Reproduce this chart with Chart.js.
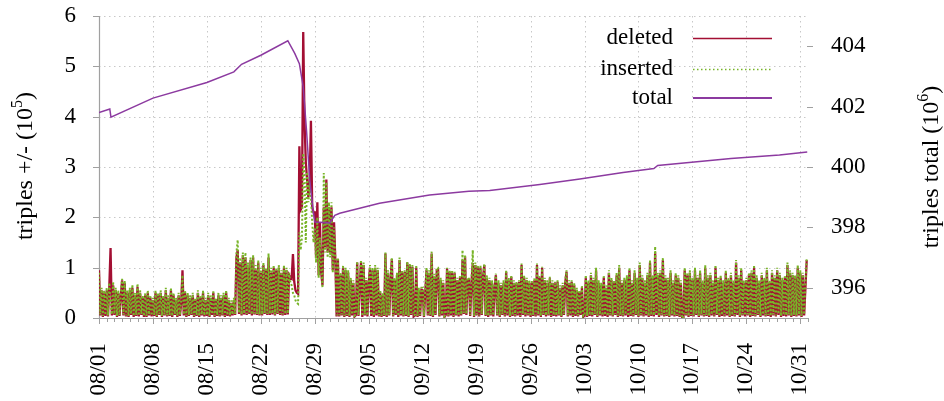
<!DOCTYPE html>
<html><head><meta charset="utf-8">
<script src="https://cdn.jsdelivr.net/npm/chart.js@4.4.1/dist/chart.umd.min.js"></script>
<style>html,body{margin:0;padding:0;background:#fff}canvas{display:block}</style>
</head><body><canvas id="c" width="944" height="401"></canvas>
<script>
// ---------- data ----------
const startDateUTC = Date.UTC(2016, 7, 1);           // 08/01
const xTickDays = [0,7,14,21,28,35,42,49,56,63,70,77,84,91];
const yLeftTicks = [0,1,2,3,4,5,6];
const yRightTicks = [396,398,400,402,404];
const seriesNames = ['deleted','inserted','total'];
const samplesPerDay = 6;   // 4-hourly samples, one row per day (x 10^5 triples)

const deletedByDay = [
 [0.95,0.05,0.55,0.02,0.5,0.04],[0.55,0.03,0.6,1.39,0.05,0.65],[0.06,0.55,0.02,0.5,0.04,0.45],[0.75,0.05,0.7,0.03,0.5,0.02],[0.55,0.06,0.6,0.02,0.45,0.04],[0.62,0.03,0.5,0.06,0.4,0.02],[0.45,0.02,0.5,0.05,0.4,0.03],
 [0.35,0.04,0.5,0.02,0.45,0.06],[0.5,0.02,0.4,0.05,0.55,0.03],[0.4,0.04,0.55,0.02,0.45,0.06],[0.35,0.02,0.45,0.04,0.3,0.95],[0.05,0.5,0.02,0.45,0.04,0.4],[0.06,0.45,0.02,0.35,0.04,0.5],[0.02,0.4,0.05,0.5,0.03,0.35],
 [0.04,0.45,0.02,0.4,0.06,0.5],[0.02,0.35,0.04,0.45,0.03,0.4],[0.05,0.45,0.02,0.5,0.04,0.35],[0.03,0.3,0.05,0.35,0.06,1.2],[1.35,0.08,1.1,0.05,1.25,0.07],[1.2,0.06,1.0,0.08,1.15,0.05],[1.2,0.07,0.95,0.06,1.1,0.05],
 [0.9,0.05,1.05,0.08,0.95,0.06],[1.2,0.06,0.9,0.07,1.0,0.05],[0.95,0.08,1.0,0.06,0.9,0.05],[1.0,0.06,0.95,0.07,0.85,0.8],[0.78,1.27,0.72,0.55,0.5,0.48],[3.41,2.15,2.2,5.68,3.93,3.1],[2.75,2.4,2.7,3.92,2.2,2.1],
 [2.1,1.2,2.3,0.85,1.9,0.9],[0.65,2.2,1.4,2.75,1.3,2.2],[1.3,2.2,0.95,1.9,1.15,0.03],[1.17,0.03,0.85,0.05,1.0,0.02],[0.95,0.04,0.9,0.02,0.75,0.05],[0.7,0.03,0.06,1.1,0.04,0.65],[1.1,0.02,1.05,0.05,0.75,0.03],
 [0.7,1.0,0.04,0.95,0.02,1.0],[0.05,0.95,0.03,0.5,0.02,0.45],[0.04,1.28,0.02,0.9,0.05,0.75],[1.17,0.03,0.75,0.06,0.85,0.02],[1.15,0.05,0.9,0.03,0.92,0.04],[1.1,0.02,1.05,0.06,1.02,0.03],[0.05,1.0,0.02,0.55,0.04,0.56],
 [0.55,0.02,0.5,0.95,0.05,0.9],[0.04,1.28,0.02,0.82,0.06,0.95],[0.95,0.03,0.75,0.05,0.7,0.02],[0.06,0.99,0.03,0.92,0.05,0.9],[0.02,0.89,0.05,0.75,0.03,0.8],[0.05,1.15,0.08,1.22,0.06,0.75],[0.75,0.04,0.7,1.09,0.02,1.05],
 [0.05,1.02,0.03,1.0,0.06,0.82],[1.05,0.04,0.8,0.02,0.75,0.05],[0.7,0.03,0.6,0.85,0.05,0.7],[0.02,0.65,0.06,0.7,0.03,0.92],[0.05,0.75,0.02,0.82,0.04,0.7],[0.03,0.69,0.05,0.72,0.02,1.05],[0.06,0.8,0.03,0.75,0.05,0.7],
 [0.02,0.7,0.04,0.75,0.03,1.05],[0.05,0.8,0.02,1.0,0.06,0.75],[0.03,0.7,0.05,0.79,0.02,0.7],[0.04,0.69,0.03,0.72,0.05,0.6],[0.02,0.65,0.06,0.7,0.92,0.03],[0.7,0.05,0.72,0.02,0.65,0.04],[0.55,0.03,0.52,0.06,0.6,0.02],
 [0.05,0.8,0.02,0.7,0.04,0.85],[0.03,0.75,0.06,0.95,0.02,0.7],[0.05,0.65,0.03,0.8,0.04,0.6],[0.02,0.9,0.05,0.75,0.03,0.7],[0.06,0.85,0.02,1.0,0.04,0.7],[0.03,0.75,0.05,0.8,0.02,0.95],[0.04,0.7,0.03,0.9,0.06,0.75],
 [0.02,1.05,0.05,0.8,0.03,0.7],[0.05,0.85,0.02,1.1,0.04,0.8],[0.03,1.3,0.06,0.85,0.02,0.9],[0.05,1.15,0.03,0.8,0.04,0.75],[0.02,0.9,0.05,0.7,0.03,0.85],[0.04,0.8,0.02,0.7,0.0,0.0],[0.95,0.05,0.85,0.02,0.9,0.04],
 [0.75,0.03,0.95,0.06,0.8,0.02],[0.9,0.05,0.7,0.03,1.0,0.04],[0.8,0.02,0.85,0.05,0.7,0.03],[1.0,0.06,0.75,0.02,0.8,0.04],[0.7,0.03,0.9,0.05,0.75,0.02],[0.85,0.04,0.7,0.03,1.1,0.06],[0.8,0.02,0.95,0.05,0.7,0.03],
 [0.75,0.05,0.85,0.02,0.9,0.04],[1.0,0.03,0.8,0.06,0.7,0.02],[0.85,0.05,0.75,0.03,0.95,0.04],[0.7,0.02,0.9,0.05,0.8,0.03],[0.95,0.06,0.85,0.02,0.75,0.04],[0.8,0.03,1.05,0.05,0.9,0.02],[0.85,0.04,0.8,0.03,1.0,0.05],
 [0.9,0.02,0.85,0.05,0.6,1.15]
];

const insertedByDay = [
 [0.9,0.07,0.6,0.04,0.55,0.06],[0.6,0.05,0.7,0.3,0.07,0.72],[0.08,0.6,0.04,0.55,0.06,0.5],[0.78,0.07,0.74,0.05,0.55,0.04],[0.6,0.08,0.66,0.04,0.5,0.06],[0.68,0.05,0.55,0.08,0.45,0.04],[0.5,0.04,0.55,0.07,0.45,0.05],
 [0.4,0.06,0.55,0.04,0.5,0.08],[0.55,0.04,0.45,0.07,0.6,0.05],[0.45,0.06,0.6,0.04,0.5,0.08],[0.4,0.04,0.5,0.06,0.35,0.85],[0.07,0.55,0.04,0.5,0.06,0.45],[0.08,0.5,0.04,0.4,0.06,0.55],[0.04,0.45,0.07,0.55,0.05,0.4],
 [0.06,0.5,0.04,0.45,0.08,0.55],[0.04,0.4,0.06,0.5,0.05,0.45],[0.07,0.5,0.04,0.55,0.06,0.4],[0.05,0.35,0.07,0.4,0.08,1.3],[1.55,0.1,1.2,0.07,1.3,0.09],[1.3,0.08,1.1,0.1,1.2,0.07],[1.25,0.09,1.05,0.08,1.15,0.07],
 [1.0,0.07,1.1,0.1,1.0,0.08],[1.28,0.08,1.0,0.09,1.05,0.07],[1.0,0.1,1.05,0.08,0.95,0.07],[1.05,0.08,1.0,0.09,0.9,0.7],[0.65,0.5,0.45,0.35,0.3,0.28],[1.7,1.35,1.6,3.27,2.9,1.5],[2.9,2.3,2.6,2.4,1.9,1.5],
 [1.8,1.1,2.0,0.8,1.6,0.95],[0.6,2.88,1.3,2.7,1.2,2.3],[1.2,2.3,0.9,1.8,1.2,0.05],[1.2,0.05,0.9,0.07,1.05,0.04],[1.0,0.06,0.95,0.04,0.8,0.07],[0.75,0.05,0.08,1.12,0.06,0.7],[1.15,0.04,1.1,0.07,0.8,0.05],
 [0.75,1.05,0.06,1.0,0.04,1.05],[0.07,1.0,0.05,0.55,0.04,0.5],[0.06,1.3,0.04,0.95,0.07,0.8],[1.2,0.05,0.8,0.08,0.9,0.04],[1.2,0.07,0.95,0.05,0.95,0.06],[1.12,0.04,1.08,0.08,1.05,0.05],[0.07,1.05,0.04,0.6,0.06,0.6],
 [0.6,0.04,0.55,1.0,0.07,0.95],[0.06,1.32,0.04,0.88,0.08,1.0],[1.0,0.05,0.8,0.07,0.75,0.04],[0.08,1.0,0.05,0.95,0.07,0.95],[0.04,0.92,0.07,0.8,0.05,0.85],[0.07,1.35,0.1,1.25,0.08,0.8],[0.8,0.06,0.75,1.35,0.04,1.1],
 [0.07,1.05,0.05,1.05,0.08,0.85],[1.08,0.06,0.85,0.04,0.8,0.07],[0.75,0.05,0.65,0.88,0.07,0.75],[0.04,0.7,0.08,0.75,0.05,0.95],[0.07,0.8,0.04,0.85,0.06,0.75],[0.05,0.72,0.07,0.75,0.04,1.08],[0.08,0.85,0.05,0.8,0.07,0.75],
 [0.04,0.75,0.06,0.8,0.05,1.08],[0.07,0.85,0.04,1.02,0.08,0.8],[0.05,0.75,0.07,0.82,0.04,0.75],[0.06,0.72,0.05,0.75,0.07,0.65],[0.04,0.7,0.08,0.75,0.95,0.05],[0.75,0.07,0.75,0.04,0.7,0.06],[0.6,0.05,0.55,0.08,0.65,0.04],
 [0.07,0.85,0.04,0.75,0.06,0.9],[0.05,0.8,0.08,1.0,0.04,0.75],[0.07,0.7,0.05,0.85,0.06,0.65],[0.04,0.95,0.07,0.8,0.05,0.75],[0.08,0.9,0.04,1.05,0.06,0.75],[0.05,0.8,0.07,0.85,0.04,1.0],[0.06,0.75,0.05,0.95,0.08,0.8],
 [0.04,1.1,0.07,0.85,0.05,0.75],[0.07,0.9,0.04,1.15,0.06,0.85],[0.05,1.42,0.08,0.9,0.04,0.95],[0.07,1.2,0.05,0.85,0.06,0.8],[0.04,0.95,0.07,0.75,0.05,0.9],[0.06,0.85,0.04,0.75,0.0,0.0],[1.0,0.07,0.9,0.04,0.95,0.06],
 [0.8,0.05,1.0,0.08,0.85,0.04],[0.95,0.07,0.75,0.05,1.05,0.06],[0.85,0.04,0.9,0.07,0.75,0.05],[1.05,0.08,0.8,0.04,0.85,0.06],[0.75,0.05,0.95,0.07,0.8,0.04],[0.9,0.06,0.75,0.05,1.15,0.08],[0.85,0.04,1.0,0.07,0.75,0.05],
 [0.8,0.07,0.9,0.04,0.95,0.06],[1.05,0.05,0.85,0.08,0.75,0.04],[0.9,0.07,0.8,0.05,1.0,0.06],[0.75,0.04,0.95,0.07,0.85,0.05],[1.0,0.08,0.9,0.04,0.8,0.06],[0.85,0.05,1.1,0.07,0.95,0.04],[0.9,0.06,0.85,0.05,1.05,0.07],
 [0.95,0.04,0.9,0.07,0.65,1.18]
];

// total triples (x 10^6), sampled at the listed days
const totalDays   = [0,1.4,1.55,7,14,17.5,18.5,21,24.5,25.4,26.0,26.5,26.93,27.35,27.78,28.0,29.95,30.6,31.24,36.4,42.9,48.0,50.7,57.2,62.4,68,72.0,72.5,82,88.3,91.9];
const totalValues = [401.8,401.92,401.65,402.28,402.8,403.15,403.4,403.7,404.18,403.76,403.42,402.65,401.2,399.56,398.57,398.18,398.15,398.4,398.47,398.8,399.07,399.2,399.22,399.42,399.6,399.82,399.95,400.05,400.28,400.4,400.5];

// ---------- styling ----------
const FONT = "'Liberation Serif','Times New Roman',serif";
const FS = 23;
const AXIS = '#a0a0a0';
const GRID = '#c8c8c8';
const COLORS = { deleted:'#a30f33', inserted:'#78b428', total:'#8c3aa0' };

function fmtDay(d){
  const dt = new Date(startDateUTC + d*86400000);
  const m = String(dt.getUTCMonth()+1).padStart(2,'0');
  const dd = String(dt.getUTCDate()).padStart(2,'0');
  return m + '/' + dd;
}
function flat(byDay){
  const pts=[];
  byDay.forEach((day,d)=>day.forEach((v,k)=>pts.push({x:d+k/samplesPerDay,y:v})));
  return pts;
}
const totalPts = totalDays.map((d,i)=>({x:d,y:totalValues[i]}));

function line(ctx,x1,y1,x2,y2){ctx.beginPath();ctx.moveTo(x1,y1);ctx.lineTo(x2,y2);ctx.stroke();}

function drawRotTitle(ctx,cx,cy,main,sup,tail,fs){
  ctx.save();
  ctx.translate(cx,cy); ctx.rotate(-Math.PI/2);
  ctx.fillStyle='#000'; ctx.textBaseline='alphabetic'; ctx.textAlign='left';
  ctx.font = fs+'px '+FONT; const w1=ctx.measureText(main).width, w3=ctx.measureText(tail).width;
  ctx.font = '16px '+FONT; const w2=ctx.measureText(sup).width;
  let sx = -(w1+w2+w3)/2; const base = 8;
  ctx.font = fs+'px '+FONT; ctx.fillText(main,sx,base); sx+=w1;
  ctx.font = '16px '+FONT; ctx.fillText(sup,sx,base-10); sx+=w2;
  ctx.font = fs+'px '+FONT; ctx.fillText(tail,sx,base);
  ctx.restore();
}

const decor = {
  id:'decor',
  beforeDatasetsDraw(chart){
    const {ctx, chartArea:a, scales:{x,y}} = chart;
    ctx.save();
    ctx.strokeStyle=GRID; ctx.lineWidth=1; ctx.setLineDash([1.5,3.5]);
    yLeftTicks.forEach(v=>{ if(v===0) return; const py=Math.round(y.getPixelForValue(v))+0.5; line(ctx,a.left,py,a.right,py); });
    xTickDays.forEach(v=>{ if(v===0) return; const px=Math.round(x.getPixelForValue(v))+0.5; line(ctx,px,a.top,px,a.bottom); });
    ctx.setLineDash([]);
    ctx.strokeStyle=AXIS; ctx.lineWidth=1.2;
    line(ctx,a.left+0.5,a.top,a.left+0.5,a.bottom+0.5);
    line(ctx,a.left,a.bottom+0.5,a.right,a.bottom+0.5);
    ctx.restore();
  },
  afterDraw(chart){
    const {ctx, chartArea:a, scales:{x,y,y2}} = chart;
    ctx.save();
    ctx.strokeStyle=AXIS; ctx.lineWidth=1;
    yLeftTicks.forEach(v=>{ const py=Math.round(y.getPixelForValue(v))+0.5; line(ctx,a.left-6,py,a.left,py); });
    yRightTicks.forEach(v=>{ const py=Math.round(y2.getPixelForValue(v))+0.5; line(ctx,a.right-1,py,a.right+5,py); });
    for(let d=0; d<=92; d++){
      const px=Math.round(x.getPixelForValue(d))+0.5;
      const major = xTickDays.includes(d);
      line(ctx,px,a.bottom,px,a.bottom+(major?6:4));
    }
    // legend
    const rows=[38,69,97.5];
    ctx.font = FS+'px '+FONT; ctx.fillStyle='#000'; ctx.textAlign='right'; ctx.textBaseline='middle';
    seriesNames.forEach((n,i)=>{
      ctx.fillText(n,673,rows[i]);
      ctx.strokeStyle=COLORS[n];
      ctx.lineWidth = n==='total'?1.8:1.5;
      ctx.setLineDash(n==='inserted'?[1.5,2.5]:[]);
      line(ctx,693,rows[i]+0.5,772,rows[i]+0.5);
    });
    ctx.setLineDash([]);
    drawRotTitle(ctx,24,166,'triples +/- (10','5',')',24);
    drawRotTitle(ctx,930,167,'triples total (10','6',')',24);
    ctx.restore();
  }
};

function zeroPad(s){ s.paddingTop=0; s.paddingBottom=0; s.paddingLeft=0; s.paddingRight=0; }

new Chart(document.getElementById('c').getContext('2d'),{
  type:'line',
  data:{datasets:[
    {label:seriesNames[0], data:flat(deletedByDay), yAxisID:'y', borderColor:COLORS.deleted, borderWidth:2.3, pointRadius:0, tension:0, order:2},
    {label:seriesNames[1], data:flat(insertedByDay), yAxisID:'y', borderColor:COLORS.inserted, borderWidth:2, borderDash:[2,2], pointRadius:0, tension:0, order:1},
    {label:seriesNames[2], data:totalPts, yAxisID:'y2', borderColor:COLORS.total, borderWidth:1.5, pointRadius:0, tension:0, order:0}
  ]},
  options:{
    responsive:false, animation:false, devicePixelRatio:1,
    layout:{padding:{top:16,left:0,right:0,bottom:0}},
    plugins:{legend:{display:false}, tooltip:{enabled:false}},
    scales:{
      x:{type:'linear', min:0, max:92,
         afterBuildTicks:s=>{s.ticks=xTickDays.map(v=>({value:v}));},
         afterFit:s=>{s.height=83; zeroPad(s);},
         grid:{display:false, drawTicks:false}, border:{display:false},
         ticks:{autoSkip:false, minRotation:90, maxRotation:90, padding:25, color:'#000', font:{family:FONT,size:FS}, callback:v=>fmtDay(v)}},
      y:{type:'linear', position:'left', min:0, max:6,
         afterBuildTicks:s=>{s.ticks=yLeftTicks.map(v=>({value:v}));},
         afterFit:s=>{s.width=99; zeroPad(s);},
         grid:{display:false, drawTicks:false}, border:{display:false},
         ticks:{padding:23, color:'#000', font:{family:FONT,size:FS}}},
      y2:{type:'linear', position:'right', min:395, max:405,
         afterBuildTicks:s=>{s.ticks=yRightTicks.map(v=>({value:v}));},
         afterFit:s=>{s.width=136; zeroPad(s);},
         grid:{display:false, drawTicks:false}, border:{display:false},
         ticks:{padding:23, color:'#000', font:{family:FONT,size:FS}}}
    }
  },
  plugins:[decor]
});
</script>
</body></html>
